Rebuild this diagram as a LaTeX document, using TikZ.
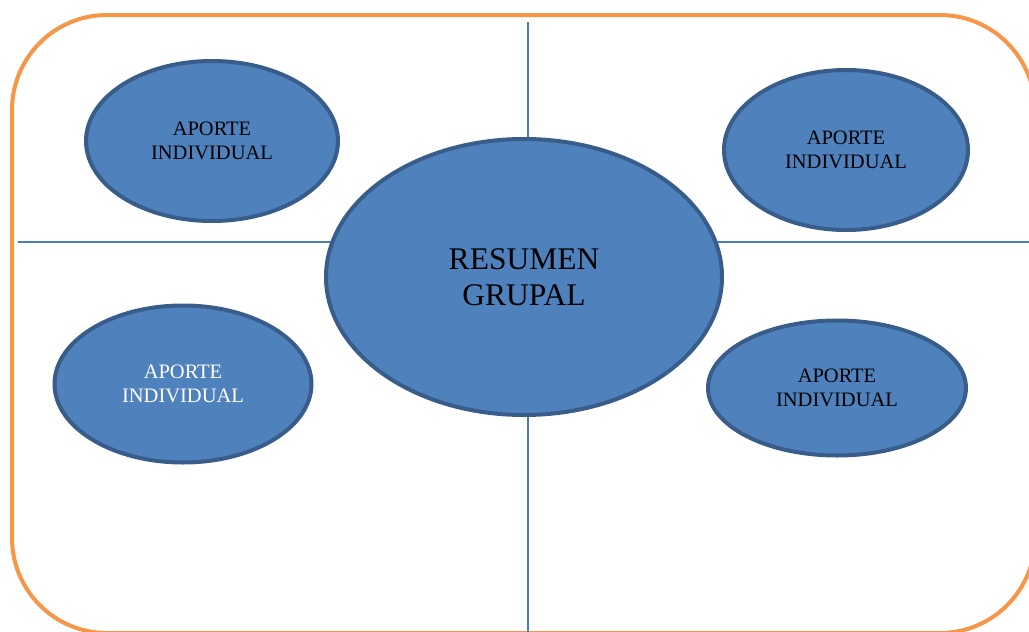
\documentclass[tikz,border=0pt]{standalone}
\usepackage{fontspec}
\setmainfont{Liberation Serif}
\usetikzlibrary{shapes.geometric}
\definecolor{frameorange}{HTML}{F79646}
\definecolor{blobfill}{HTML}{4F81BD}
\definecolor{blobline}{HTML}{385D8A}
\definecolor{axisblue}{HTML}{4A7EBB}

\begin{document}
\begin{tikzpicture}
		[
			x=1pt, y=-1pt,
			align=center,
			blob/.style={ellipse, draw=blobline, fill=blobfill, line width=4pt, inner sep=0pt},
			small/.style={font=\fontsize{20.5}{24.5}\selectfont},
			big/.style={font=\fontsize{31.5}{36.5}\selectfont},
			axis/.style={draw=axisblue, line width=1.5pt}
		]

		\useasboundingbox (0,0) rectangle (1029,632);
		\clip (0,0) rectangle (1029,632);

		% frame
		\draw[frameorange, line width=4pt, rounded corners=95pt] (12,15) rectangle (1035,633);

		% axes
		\coordinate (N) at ( 528,  22 );
		\coordinate (S) at ( 528, 640 );
		\coordinate (W) at (  18, 242 );
		\coordinate (E) at (1040, 242 );
		\draw[axis] (N) -- (S);
		\draw[axis] (W) -- (E);

		% ellipses
		\node[blob, big, minimum width=396pt, minimum height=276pt]	(R)  at ( 524, 277 ) {RESUMEN\\GRUPAL};
		\node[blob, small, minimum width=252pt, minimum height=160pt]	(A1) at ( 212, 141 ) {APORTE\\INDIVIDUAL};
		\node[blob, small, minimum width=244pt, minimum height=160pt]	(A2) at ( 846, 150 ) {APORTE\\INDIVIDUAL};
		\node[blob, small, text=white, minimum width=257pt, minimum height=157pt]	(A3) at ( 183, 384 ) {APORTE\\INDIVIDUAL};
		\node[blob, small, minimum width=258pt, minimum height=135pt]	(A4) at ( 837, 388 ) {APORTE\\INDIVIDUAL};

	\end{tikzpicture}
\end{document}
